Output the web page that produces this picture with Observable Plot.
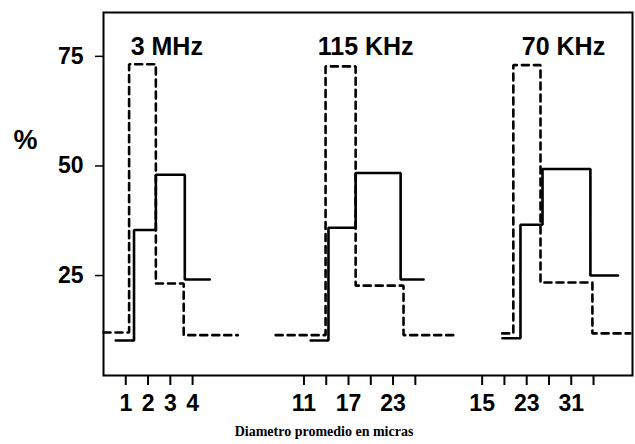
<!DOCTYPE html>
<html>
<head>
<meta charset="utf-8">
<script src="https://cdn.jsdelivr.net/npm/d3@7"></script>
<script src="https://cdn.jsdelivr.net/npm/@observablehq/plot@0.6"></script>
<style>
  html, body { margin: 0; padding: 0; background: #fff; }
</style>
</head>
<body>
<div id="chart"></div>
<script>
// Panel labels and their horizontal anchor (position units along the shared axis)
const panelNames = ["3 MHz", "115 KHz", "70 KHz"];
const panelCenters = [2.84, 11.77, 20.65];

// Shared x axis: tick positions and their labels (three frequency groups)
const tickPositions = [1, 2, 3, 4, 9, 10, 11, 12, 13, 14, 17, 18, 19, 20, 21, 22];
const tickLabels = ["1", "2", "3", "4", "11", "", "17", "", "23", "", "15", "", "23", "", "31", ""];

// Y ticks
const yTicks = [25, 50, 75];

// Step histograms: bin edges (position units) and percentage per bin
// Solid series
const solid1Edges = [0.55, 1.37, 2.35, 3.65, 4.77];
const solid1Values = [10.2, 35.4, 48.0, 24.1];
const solid2Edges = [9.3, 10.1, 11.32, 13.34, 14.37];
const solid2Values = [10.2, 35.9, 48.4, 24.1];
const solid3Edges = [17.91, 18.72, 19.71, 21.86, 23.1];
const solid3Values = [10.7, 36.6, 49.3, 25.0];
// Dashed series
const dashed1Edges = [0, 1.15, 2.35, 3.6, 6.03];
const dashed1Values = [12.0, 73.2, 23.2, 11.4];
const dashed2Edges = [7.73, 9.97, 11.32, 13.47, 15.72];
const dashed2Values = [11.4, 72.7, 22.7, 11.4];
const dashed3Edges = [17.9, 18.4, 19.62, 21.95, 23.65];
const dashed3Values = [11.8, 73.0, 23.4, 11.8];

function steps(edges, values, id) {
  return edges.map((e, i) => ({x: e, y: values[Math.min(i, values.length - 1)], id}));
}

const solidData = [
  ...steps(solid1Edges, solid1Values, "s1"),
  ...steps(solid2Edges, solid2Values, "s2"),
  ...steps(solid3Edges, solid3Values, "s3")
];
const dashedData = [
  ...steps(dashed1Edges, dashed1Values, "d1"),
  ...steps(dashed2Edges, dashed2Values, "d2"),
  ...steps(dashed3Edges, dashed3Values, "d3")
];
const panels = panelNames.map((name, i) => ({name, x: panelCenters[i]}));
const labelOf = new Map(tickPositions.map((t, i) => [t, tickLabels[i]]));

const sans = "'Liberation Sans', Arial, sans-serif";

const chart = Plot.plot({
  width: 635,
  height: 444,
  marginLeft: 103,
  marginRight: 3,
  marginTop: 12,
  marginBottom: 69,
  style: {fontFamily: sans, fontWeight: "bold", fontSize: "23px", color: "#000", background: "#fff"},
  x: {domain: [0, 23.75]},
  y: {domain: [2.2, 85]},
  marks: [
    Plot.frame({stroke: "#000", strokeWidth: 2}),
    Plot.axisY({ticks: yTicks, tickSize: 8, tickPadding: 12, label: null, fontSize: 23, fontWeight: "bold", strokeWidth: 1.5}),
    Plot.axisX({ticks: tickPositions, tickFormat: (d) => labelOf.get(d), tickSize: 10, tickPadding: 9, label: null, fontSize: 23, fontWeight: "bold", strokeWidth: 2}),
    Plot.line(dashedData, {x: "x", y: "y", z: "id", curve: "step-after", stroke: "#000", strokeWidth: 2.6, strokeDasharray: "7,5", strokeLinejoin: "miter"}),
    Plot.line(solidData, {x: "x", y: "y", z: "id", curve: "step-after", stroke: "#000", strokeWidth: 2.6, strokeLinejoin: "miter"}),
    Plot.text(panels, {x: "x", text: "name", frameAnchor: "top", dy: 25, fontSize: 25, fontWeight: "bold", fontFamily: sans}),
    Plot.text(["%"], {frameAnchor: "left", dx: -90, dy: -54, fontSize: 27, fontWeight: "bold", fontFamily: sans}),
    Plot.text(["Diametro promedio en micras"], {frameAnchor: "bottom", dx: -44, dy: 60, fontSize: 14, fontWeight: "bold", fontFamily: "'Liberation Serif', 'DejaVu Serif', serif"})
  ]
});
document.getElementById("chart").appendChild(chart);
</script>
</body>
</html>
